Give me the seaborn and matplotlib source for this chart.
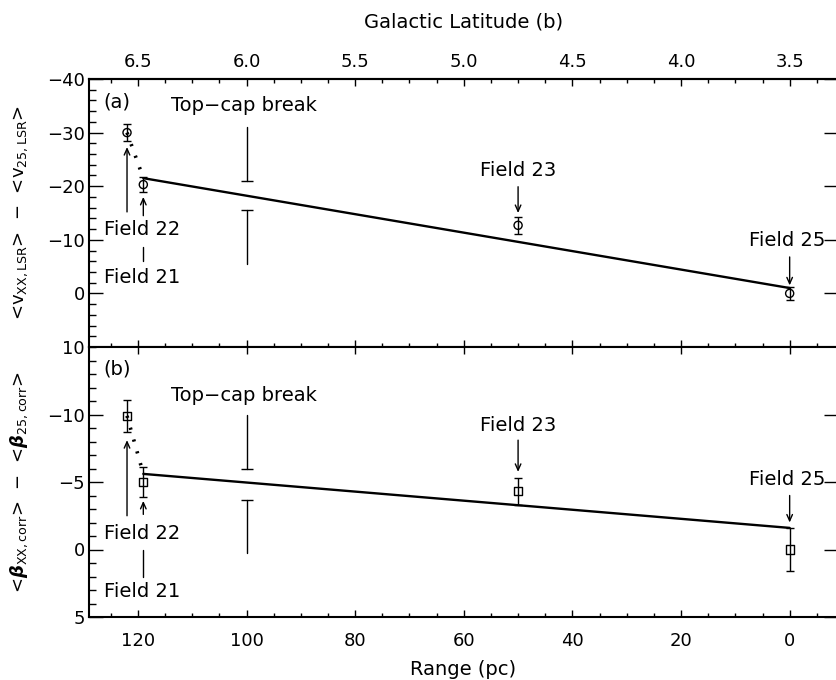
import matplotlib
matplotlib.use("Agg")
import matplotlib.pyplot as plt
import numpy as np
import pandas as pd
import seaborn as sns
from matplotlib.ticker import MultipleLocator, FixedLocator, FormatStrFormatter

# ---- data -------------------------------------------------------------
fields = ["Field 22", "Field 21", "Field 23", "Field 25"]
range_pc = [122, 119, 50, 0]
dv_lsr = [-30.0, -20.3, -12.7, 0.0]
dv_lsr_err = [1.6, 1.4, 1.6, 1.2]
dbeta = [-9.9, -5.0, -4.3, 0.0]
dbeta_err = [1.2, 1.1, 1.0, 1.6]

# straight-line fit through fields 21-25
fit_pc = [119, 0]
fit_v = [-21.5, -1.0]
fit_beta = [-5.6, -1.6]

# top-cap break bars at 100 pc (upper piece, lower piece)
break_pc = 100
break_v = [(-31.0, -21.0), (-15.5, -5.4)]
break_beta = [(-10.0, -6.0), (-3.7, 0.25)]

lat_ticks = [6.5, 6.0, 5.5, 5.0, 4.5, 4.0, 3.5]
range_ticks = [120, 100, 80, 60, 40, 20, 0]
v_ticks = [-40, -30, -20, -10, 0, 10]
beta_ticks = [-10, -5, 0, 5]

df = pd.DataFrame({"field": fields, "range_pc": range_pc,
                   "dv": dv_lsr, "dv_err": dv_lsr_err,
                   "dbeta": dbeta, "dbeta_err": dbeta_err})


def pc_to_lat(pc):
    return 3.5 + np.asarray(pc) / 40.0


def lat_to_pc(b):
    return (np.asarray(b) - 3.5) * 40.0


# ---- style ------------------------------------------------------------
sns.set_style("ticks")
plt.rcParams["font.family"] = ["DejaVu Sans"]
plt.rcParams["mathtext.fontset"] = "dejavusans"
plt.rcParams["axes.linewidth"] = 1.5
for key in ("text.color", "axes.labelcolor", "axes.edgecolor",
            "xtick.color", "ytick.color", "xtick.labelcolor", "ytick.labelcolor"):
    plt.rcParams[key] = "black"
FS = 13      # tick labels, y labels
FT = 14      # annotations and x labels

fig = plt.figure(figsize=(8.36, 6.8), dpi=100)
L, R = 89 / 836, 838 / 836
ax_a = fig.add_axes([L, 1 - 347 / 680, R - L, (347 - 79) / 680])
ax_b = fig.add_axes([L, 1 - 617 / 680, R - L, (617 - 347) / 680])

for ax in (ax_a, ax_b):
    ax.set_xlim(129, -8.9)
    ax.xaxis.set_major_locator(FixedLocator(range_ticks))
    ax.xaxis.set_minor_locator(MultipleLocator(5))
    ax.tick_params(which="both", direction="in", colors="k", width=1,
                   labelsize=FS, left=True, right=True)
    ax.tick_params(axis="y", which="major", length=10, pad=3)
    ax.tick_params(axis="y", which="minor", length=5)
    ax.tick_params(axis="y", which="minor", right=False)
    ax.tick_params(axis="x", which="major", length=5)
    ax.tick_params(axis="x", which="minor", length=3)
    for s in ax.spines.values():
        s.set_color("k")

ax_a.set_ylim(10, -40)
ax_a.yaxis.set_major_locator(FixedLocator(v_ticks))
ax_a.yaxis.set_minor_locator(MultipleLocator(2))
ax_a.tick_params(axis="x", top=False, bottom=True, labelbottom=False)

ax_b.set_ylim(5, -15)
ax_b.yaxis.set_major_locator(FixedLocator(beta_ticks))
ax_b.yaxis.set_minor_locator(MultipleLocator(1))
ax_b.tick_params(axis="x", top=True, bottom=True, labelbottom=True, pad=11)

# top axis: galactic latitude
sec = ax_a.secondary_xaxis("top", functions=(pc_to_lat, lat_to_pc))
sec.xaxis.set_major_locator(FixedLocator(lat_ticks))
sec.xaxis.set_minor_locator(MultipleLocator(0.125))
sec.xaxis.set_major_formatter(FormatStrFormatter("%.1f"))
sec.tick_params(which="both", direction="in", labelsize=FS, width=1, pad=6,
                colors="k")
sec.tick_params(which="major", length=5)
sec.tick_params(which="minor", length=3)
sec.set_xlabel("Galactic Latitude (b)", fontsize=FT, labelpad=18, color="k")

# ---- panels -------------------------------------------------------------
panels = [
    (ax_a, "dv", "dv_err", fit_v, break_v, "o",
     "<v$_{\\mathrm{XX,LSR}}$>  \u2212  <v$_{\\mathrm{25,LSR}}$>"),
    (ax_b, "dbeta", "dbeta_err", fit_beta, break_beta, "s",
     "<$\\boldsymbol{\\beta}_{\\mathrm{XX,corr}}$>  \u2212  "
     "<$\\boldsymbol{\\beta}_{\\mathrm{25,corr}}$>"),
]

for ax, col, ecol, fit_y, brk, mk, ylab in panels:
    ax.errorbar(df["range_pc"], df[col], yerr=df[ecol], fmt="none",
                ecolor="k", elinewidth=1, capsize=3, capthick=1, zorder=2)
    sns.scatterplot(data=df, x="range_pc", y=col, ax=ax, marker=mk, s=34,
                    facecolor="none", edgecolor="k", linewidth=1,
                    legend=False, zorder=3)
    sns.lineplot(x=fit_pc, y=fit_y, ax=ax, color="k", lw=1.7, zorder=2)
    sns.lineplot(x=[df["range_pc"][0], fit_pc[0]], y=[df[col][0], fit_y[0]],
                 ax=ax, color="k", lw=2.6, linestyle=(0, (0.6, 2.8)),
                 sort=False, zorder=2)
    # top-cap break marker
    (u0, u1), (l0, l1) = brk
    ax.plot([break_pc, break_pc], [u0, u1], color="k", lw=1)
    ax.plot([break_pc], [u1], marker="_", ms=9, mew=1, color="k")
    ax.plot([break_pc, break_pc], [l0, l1], color="k", lw=1)
    ax.plot([break_pc], [l0], marker="_", ms=9, mew=1, color="k")
    ax.set_xlabel("")
    ax.set_ylabel(ylab, fontsize=FS, color="k")
    ax.yaxis.set_label_coords(-0.079, 0.5)


def arrow(ax, x, tail, head):
    ax.annotate("", xy=(x, head), xytext=(x, tail),
                arrowprops=dict(arrowstyle="->,head_length=0.45,head_width=0.2",
                                lw=1, color="k", shrinkA=0, shrinkB=0))


txt = dict(fontsize=FT, color="k", va="center")

# panel (a) annotations
ax_a.text(126.3, -35.8, "(a)", ha="left", **txt)
ax_a.text(100.4, -35.1, "Top\u2212cap break", ha="center", **txt)
ax_a.text(126.3, -12.0, "Field 22", ha="left", **txt)
ax_a.text(126.3, -3.0, "Field 21", ha="left", **txt)
ax_a.text(50, -23.0, "Field 23", ha="center", **txt)
ax_a.text(0.5, -9.9, "Field 25", ha="center", **txt)
arrow(ax_a, 122, -15.2, -27.3)
arrow(ax_a, 119, -14.5, -18.0)
ax_a.plot([119, 119], [-8.7, -6.0], color="k", lw=1)
arrow(ax_a, 50, -19.9, -15.0)
arrow(ax_a, 0, -6.8, -1.5)

# panel (b) annotations
ax_b.text(126.3, -13.4, "(b)", ha="left", **txt)
ax_b.text(100.4, -11.4, "Top\u2212cap break", ha="center", **txt)
ax_b.text(126.3, -1.2, "Field 22", ha="left", **txt)
ax_b.text(126.3, 3.1, "Field 21", ha="left", **txt)
ax_b.text(50, -9.2, "Field 23", ha="center", **txt)
ax_b.text(0.5, -5.15, "Field 25", ha="center", **txt)
arrow(ax_b, 122, -2.5, -8.1)
arrow(ax_b, 119, -2.6, -3.6)
ax_b.plot([119, 119], [0.0, 2.0], color="k", lw=1)
arrow(ax_b, 50, -8.1, -5.75)
arrow(ax_b, 0, -4.0, -2.0)

ax_b.set_xlabel("Range (pc)", fontsize=FT, color="k")
ax_b.xaxis.set_label_coords(0.5, -0.16)
ax_b.xaxis.label.set_va("top")

fig.savefig("out.png", dpi=100)
